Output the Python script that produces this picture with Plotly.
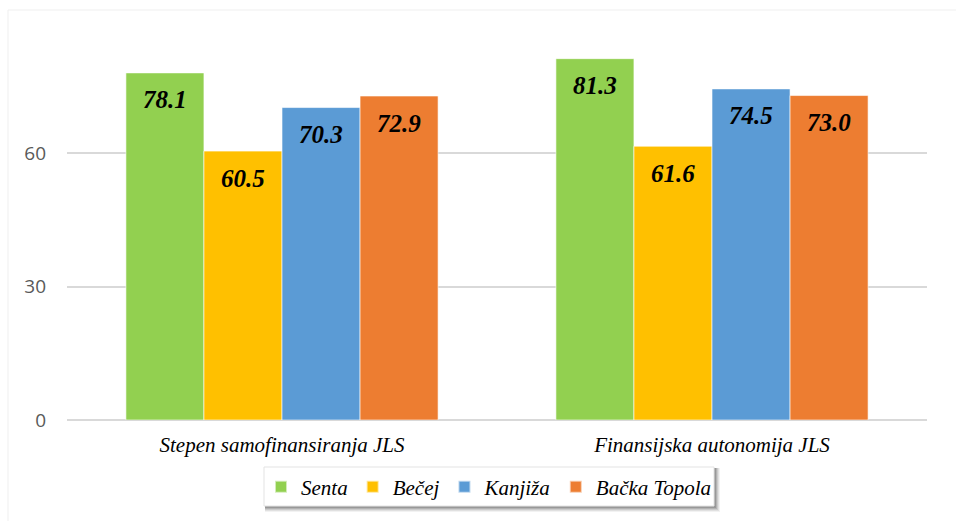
import plotly.graph_objects as go

# Indicator categories and municipality values (%)
categories = ["Stepen samofinansiranja JLS", "Finansijska autonomija JLS"]
municipalities = ["Senta", "Bečej", "Kanjiža", "Bačka Topola"]
senta = [78.1, 81.3]
becej = [60.5, 61.6]
kanjiza = [70.3, 74.5]
backa_topola = [72.9, 73.0]
y_ticks = [0, 30, 60]

series = [senta, becej, kanjiza, backa_topola]
colors = ["#92D050", "#FFC000", "#5B9BD5", "#ED7D31"]

SERIF = "Liberation Serif"

fig = go.Figure()
for name, vals, col in zip(municipalities, series, colors):
    fig.add_trace(go.Bar(
        x=categories, y=vals, name=name,
        marker=dict(color=col, line=dict(color="rgba(255,255,255,0.6)", width=1)),
        hoverinfo="x+y+name",
    ))

# Value labels placed just below each bar top, shifted to the bar's slot in its group
plot_left, plot_right = 67, 927
group_frac = 0.726
cat_width = (plot_right - plot_left) / len(categories)
bar_w = cat_width * group_frac / len(series)
annotations = []
for i, vals in enumerate(series):
    dx = (i - (len(series) - 1) / 2) * bar_w
    for cat, v in zip(categories, vals):
        annotations.append(dict(
            x=cat, y=v, xref="x", yref="y",
            text=f"<b><i>{v:.1f}</i></b>", showarrow=False,
            xshift=dx, yshift=-27,
            font=dict(family=SERIF, size=25, color="#000000"),
        ))

# Legend frame with a soft drop shadow
H = 521
plot_top, plot_bottom = 20, 420
def px_x(p):
    return (p - plot_left) / (plot_right - plot_left)
def px_y(p):
    return (plot_bottom - p) / (plot_bottom - plot_top)

shapes = []
box = (264, 467, 714, 506)
for k, op in [(6, 0.05), (5, 0.07), (4, 0.09), (3, 0.12), (2, 0.14)]:
    shapes.append(dict(
        type="rect", xref="paper", yref="paper", layer="above",
        x0=px_x(box[0] + 1), x1=px_x(box[2] + k),
        y0=px_y(box[1] + 1), y1=px_y(box[3] + k),
        fillcolor=f"rgba(0,0,0,{op})", line=dict(width=0),
    ))
shapes.append(dict(
    type="rect", xref="paper", yref="paper", layer="above",
    x0=px_x(box[0]), x1=px_x(box[2]), y0=px_y(box[1]), y1=px_y(box[3]),
    fillcolor="#FFFFFF", line=dict(color="#E3E3E3", width=1),
))
# Outer chart-area frame (top and left edges)
for x0, y0, x1, y1 in [(8, 10, 956, 10), (8, 10, 8, 521)]:
    shapes.append(dict(
        type="line", xref="paper", yref="paper", layer="below",
        x0=px_x(x0), x1=px_x(x1), y0=px_y(y0), y1=px_y(y1),
        line=dict(color="#EFEFEF", width=1),
    ))

fig.update_layout(
    width=956, height=H,
    margin=dict(l=plot_left, r=956 - plot_right, t=plot_top, b=H - plot_bottom),
    paper_bgcolor="#FFFFFF", plot_bgcolor="#FFFFFF",
    barmode="group", bargap=1 - group_frac, bargroupgap=0,
    showlegend=True,
    legend=dict(
        orientation="h", x=px_x(489), xanchor="center",
        y=px_y(487), yanchor="middle",
        bgcolor="rgba(0,0,0,0)", borderwidth=0,
        font=dict(family=SERIF, size=21, color="#000000", style="italic"),
        itemsizing="constant", traceorder="normal",
    ),
    xaxis=dict(
        showgrid=False, showline=False, ticks="",
        tickfont=dict(family=SERIF, size=21, color="#000000", style="italic"),
        ticklabelstandoff=10,
        fixedrange=True,
    ),
    yaxis=dict(
        range=[0, 90], tickvals=y_ticks, ticktext=[str(t) for t in y_ticks],
        showgrid=True, gridcolor="#D9D9D9", gridwidth=1.5,
        zeroline=True, zerolinecolor="#D9D9D9", zerolinewidth=1.5,
        showline=False, ticks="", ticklabelstandoff=20,
        tickfont=dict(family="Open Sans", size=19, color="#595959"),
        fixedrange=True,
    ),
    annotations=annotations,
    shapes=shapes,
)

fig.write_html("out.html")
